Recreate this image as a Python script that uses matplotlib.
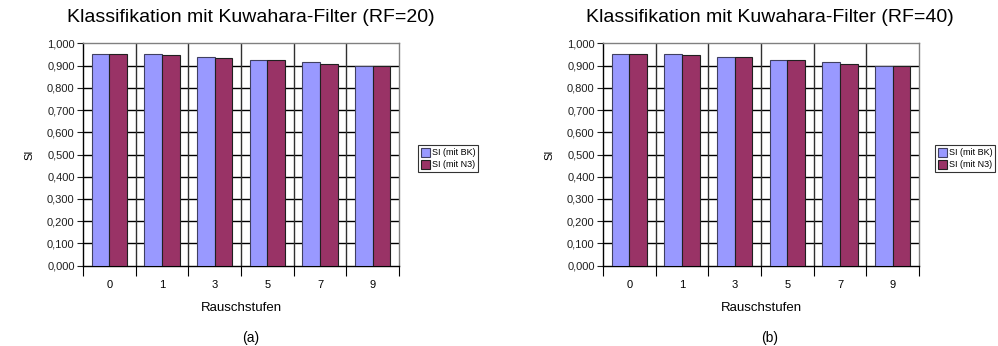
import numpy as np
import matplotlib
matplotlib.use("Agg")
import matplotlib.pyplot as plt
from matplotlib.patches import Patch
from matplotlib.ticker import FuncFormatter

plt.rcParams['font.family'] = ['Liberation Sans', 'DejaVu Sans']

# Rauschstufen and SI values for both receptive field sizes
stufen = ["0", "1", "3", "5", "7", "9"]
si_bk_rf20 = [0.954, 0.954, 0.940, 0.923, 0.914, 0.897]
si_n3_rf20 = [0.954, 0.949, 0.935, 0.923, 0.909, 0.897]
si_bk_rf40 = [0.954, 0.954, 0.940, 0.923, 0.914, 0.897]
si_n3_rf40 = [0.954, 0.949, 0.940, 0.923, 0.909, 0.897]

titles = ["Klassifikation mit Kuwahara-Filter (RF=20)",
          "Klassifikation mit Kuwahara-Filter (RF=40)"]
captions = ["(a)", "(b)"]
series_labels = ["SI (mit BK)", "SI (mit N3)"]

BLUE = "#9999ff"
RED = "#993366"

W, H = 998, 346
fig = plt.figure(figsize=(W / 100, H / 100), dpi=100)


def px_axes(x0, y0, x1, y1):
    # axes from pixel box (top-left origin)
    return fig.add_axes([x0 / W, 1 - y1 / H, (x1 - x0) / W, (y1 - y0) / H])


def draw_panel(ax, bk, n3, title, caption, xc, legend_box):
    n = len(stufen)
    x = np.arange(n) + 0.5
    w = 1 / 3
    ax.bar(x - w / 2, bk, w, color=BLUE, edgecolor="#404060", linewidth=0.8, zorder=3)
    ax.bar(x + w / 2, n3, w, color=RED, edgecolor="#202020", linewidth=0.8, zorder=3)

    ax.set_xlim(0, n)
    ax.set_ylim(0, 1)
    ax.set_yticks(np.arange(0, 1.01, 0.1))
    ax.yaxis.set_major_formatter(FuncFormatter(lambda v, p: f"{v:.3f}".replace(".", ",")))
    ax.tick_params(axis="y", length=4, width=0.8, labelsize=8, pad=2, colors="#202020")

    # category boundaries carry the ticks, labels sit at the centres
    ax.set_xticks(np.arange(0, n + 1))
    ax.set_xticklabels([])
    ax.set_xticks(x, minor=True)
    ax.set_xticklabels(stufen, minor=True)
    ax.tick_params(axis="x", which="major", length=7, width=0.8, direction="out")
    ax.tick_params(axis="x", which="minor", length=0, labelsize=8, pad=10)

    for v in np.arange(0.1, 1.0, 0.1):
        ax.axhline(v, color="black", linewidth=1.0, zorder=1)
    for b in range(1, n):
        ax.axvline(b, color="#303030", linewidth=1.0, zorder=1)

    for s in ["left", "bottom"]:
        ax.spines[s].set_color("black")
    for s in ["top", "right"]:
        ax.spines[s].set_color("#808080")
    for s in ax.spines.values():
        s.set_linewidth(1.0)

    ax.set_xlabel("Rauschstufen", fontsize=9.5, labelpad=9)
    ax.set_ylabel("SI", fontsize=8, labelpad=9)

    fig.text(xc / W, 1 - 18 / H, title, ha="center", va="center", fontsize=14)
    fig.text(xc / W, 1 - 338 / H, caption, ha="center", va="center", fontsize=10)

    handles = [Patch(facecolor=BLUE, edgecolor="#404060", linewidth=0.8),
               Patch(facecolor=RED, edgecolor="#202020", linewidth=0.8)]
    lx, ly = legend_box
    leg = fig.legend(handles, series_labels, loc="upper left",
                     bbox_to_anchor=(lx / W, 1 - ly / H), fontsize=6.5,
                     frameon=True, fancybox=False, handlelength=1.0, handleheight=1.2,
                     handletextpad=0.25, borderpad=0.3, labelspacing=0.25,
                     borderaxespad=0)
    leg.get_frame().set_edgecolor("black")
    leg.get_frame().set_linewidth(0.8)


ax1 = px_axes(83, 43.3, 399, 265.7)
draw_panel(ax1, si_bk_rf20, si_n3_rf20, titles[0], captions[0], 251, (418, 145))

ax2 = px_axes(603, 43.3, 919, 265.7)
draw_panel(ax2, si_bk_rf40, si_n3_rf40, titles[1], captions[1], 770, (935, 145))

fig.savefig("out.png", dpi=100)
